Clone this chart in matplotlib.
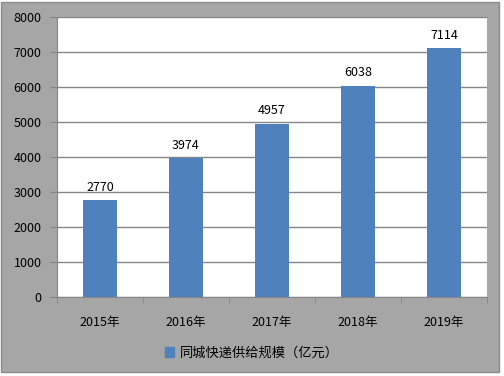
import matplotlib.pyplot as plt
import matplotlib.patches as mpatches
import numpy as np

plt.rcParams['font.family'] = ['Noto Sans CJK SC', 'DejaVu Sans']

years = ['2015年', '2016年', '2017年', '2018年', '2019年']
values = [2770, 3974, 4957, 6038, 7114]
series_name = '同城快递供给规模（亿元）'

fig = plt.figure(figsize=(5.04, 3.76), dpi=100, facecolor='white')
# gray chart background with thin darker frame
bg = mpatches.Rectangle((1 / 504, 4 / 376), 498 / 504, 370 / 376, transform=fig.transFigure,
                        facecolor='#a6a6a6', edgecolor='#8c8c8c', linewidth=1, zorder=-10)
fig.patches.append(bg)

ax = fig.add_axes([57 / 504, 1 - 297 / 376, 430 / 504, 280 / 376])
ax.set_facecolor('white')

x = np.arange(len(years))
bars = ax.bar(x, values, width=0.4, color='#4f81bd', zorder=3)
for xi, v in zip(x, values):
    ax.text(xi, v + 180, str(v), ha='center', va='bottom', fontsize=9, color='black')

ax.set_ylim(0, 8000)
ax.set_xlim(-0.5, len(years) - 0.5)
ax.set_yticks(np.arange(0, 8001, 1000))
ax.set_yticklabels([str(t) for t in range(0, 8001, 1000)], fontsize=9)
ax.yaxis.grid(True, color='#868686', linewidth=1, zorder=0)
ax.set_axisbelow(True)
ax.tick_params(axis='y', length=5, color='#868686', pad=6)

ax.set_xticks(x)
ax.set_xticklabels(years, fontsize=9)
ax.set_xticks(np.arange(-0.5, len(years), 1), minor=True)
ax.tick_params(axis='x', which='major', length=0, pad=14)
ax.tick_params(axis='x', which='minor', length=4, color='#868686')

for s in ['top', 'right']:
    ax.spines[s].set_visible(False)
ax.spines['left'].set_color('#868686')
ax.spines['bottom'].set_color('#868686')

handle = mpatches.Patch(color='#4f81bd')
fig.legend([handle], [series_name], loc='center', bbox_to_anchor=(252 / 504, 1 - 353 / 376),
           frameon=False, fontsize=9.5, handlelength=0.7, handleheight=0.7, handletextpad=0.4)

fig.savefig('out.png', dpi=100, facecolor=fig.get_facecolor())
